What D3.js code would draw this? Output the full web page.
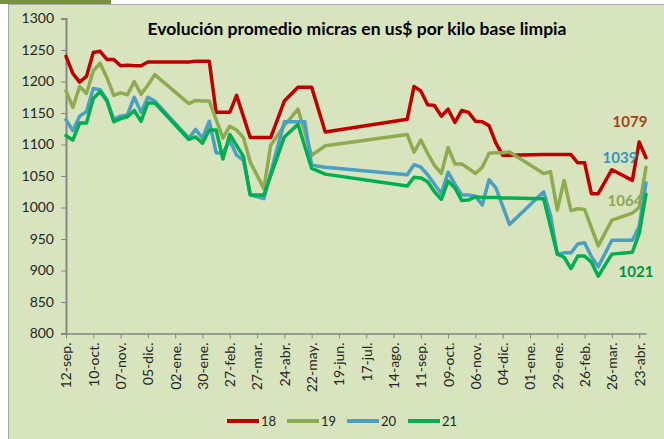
<!DOCTYPE html>
<html><head><meta charset="utf-8">
<script src="https://cdn.jsdelivr.net/npm/d3@7"></script>
<style>body{margin:0;background:#fff;}svg{display:block;}</style>
</head><body>
<svg id="c" width="664" height="439"></svg>
<script>
const dates = ["2017-09-12","2017-09-19","2017-09-26","2017-10-03","2017-10-10","2017-10-17","2017-10-24","2017-10-31","2017-11-07","2017-11-14","2017-11-21","2017-11-28","2017-12-05","2017-12-12",
"2018-01-16","2018-01-23","2018-01-30","2018-02-06","2018-02-13","2018-02-20","2018-02-27","2018-03-06","2018-03-13","2018-03-20","2018-04-03","2018-04-10","2018-04-24","2018-05-08","2018-05-15","2018-05-22","2018-06-05",
"2018-08-28","2018-09-04","2018-09-11","2018-09-18","2018-09-25","2018-10-02","2018-10-09","2018-10-16","2018-10-23","2018-10-30","2018-11-06","2018-11-13","2018-11-20","2018-11-27","2018-12-04","2018-12-11",
"2019-01-15","2019-01-22","2019-01-29","2019-02-05","2019-02-12","2019-02-19","2019-02-26","2019-03-05","2019-03-12","2019-03-26","2019-04-16","2019-04-23","2019-04-30"];

const s18 = [1240,1213,1199,1208,1246,1248,1235,1235,1225,1226,1225,1225,1231,1231,
1231,1232,1232,1232,1151,1151,1151,1178,null,1111,1111,1111,1169,1191,1191,1191,1120,
1140,1192,1185,1163,1162,1145,1156,1135,1154,1151,1137,1136,1130,1102,1083,1083,
1084,1084,1084,1084,1084,1071,1071,1022,1022,1060,1043,1104,1079];
const s19 = [1185,1159,1192,1181,1217,1229,1206,1178,1182,1179,1200,1180,1194,1211,
1165,1170,1169,1169,1140,1110,1129,1123,1111,1072,1030,1099,1130,1156,null,1083,1098,
1116,1088,1107,1086,1067,1054,1095,1069,1069,1062,1054,1064,1086,1087,1087,1088,
1054,1057,996,1043,995,998,997,null,939,980,991,1000,1064];
const s20 = [1139,1122,1145,1152,1189,1187,1171,1140,1145,1147,1175,1151,1175,1169,
1110,1124,1110,1137,1087,1086,1107,1083,1075,1020,1014,null,1136,1136,1136,1067,1064,
1052,1068,1064,1052,1037,1022,1056,1037,1020,1020,1018,1004,1044,1031,null,973,
1025,988,926,928,928,942,944,922,906,948,948,970,1039];
const s21 = [1114,1107,1134,1134,1173,1184,1169,1136,1141,1144,1154,1137,1166,1166,
1108,1112,1102,1123,1123,1077,1116,null,1081,1020,1020,null,1112,1132,null,1062,1053,
1034,1048,1047,1041,1025,1013,1042,1031,1011,1012,1017,1016,1016,1016,1015,1015,
1014,null,926,921,903,923,923,913,891,926,929,959,1021];

const seriesNames = ["18","19","20","21"];
const seriesColors = ["#c00000","#8fab4f","#4a9fc2","#00b050"];
const labelColors = ["#a5431c","#8fa756","#3a94b8","#00923f"];
const yTicks = [800,850,900,950,1000,1050,1100,1150,1200,1250,1300];
const xTickDates = ["2017-09-12","2017-10-10","2017-11-07","2017-12-05","2018-01-02","2018-01-30","2018-02-27","2018-03-27","2018-04-24","2018-05-22","2018-06-19","2018-07-17","2018-08-14","2018-09-11","2018-10-09","2018-11-06","2018-12-04","2019-01-01","2019-01-29","2019-02-26","2019-03-26","2019-04-23"];
const xTickLabels = ["12-sep.","10-oct.","07-nov.","05-dic.","02-ene.","30-ene.","27-feb.","27-mar.","24-abr.","22-may.","19-jun.","17-jul.","14-ago.","11-sep.","09-oct.","06-nov.","04-dic.","01-ene.","29-ene.","26-feb.","26-mar.","23-abr."];
const title = "Evolución promedio micras en us$ por kilo base limpia";

const parse = d3.utcParse("%Y-%m-%d");
const svg = d3.select("#c");
const font = "Lato, 'Open Sans', sans-serif";

// frame
svg.append("rect").attr("x",8.5).attr("y",4.5).attr("width",664).attr("height",440)
  .attr("fill","#d7e4bd").attr("stroke","#a6a6a6").attr("stroke-width",1);
svg.append("rect").attr("x",0).attr("y",0).attr("width",111).attr("height",4).attr("fill","#76923c");

const x = d3.scaleUtc().domain([parse("2017-09-12"), parse("2019-04-30")]).range([66, 646]);
const y = d3.scaleLinear().domain([800,1300]).range([333.5, 18.5]);

// y axis
const yAxis = svg.append("g").attr("transform","translate(66,0)")
  .call(d3.axisLeft(y).tickValues(yTicks).tickSize(5).tickPadding(7).tickFormat(d3.format("d")));
yAxis.select(".domain").attr("stroke","#868686").attr("stroke-width",2);
yAxis.selectAll(".tick line").attr("stroke","#868686").attr("stroke-width",1);
yAxis.selectAll("text").attr("font-family",font).attr("font-size","14px").attr("fill","#262626");

// x axis
const xAxis = svg.append("g").attr("transform","translate(0,333.5)")
  .call(d3.axisBottom(x).tickValues(xTickDates.map(parse)).tickSize(5).tickSizeOuter(0)
    .tickFormat((d,i)=>xTickLabels[i]));
xAxis.select(".domain").attr("stroke","#868686").attr("stroke-width",1.5);
xAxis.selectAll(".tick line").attr("stroke","#868686");
xAxis.selectAll("text").attr("font-family",font).attr("font-size","14px").attr("fill","#262626")
  .attr("text-anchor","end").attr("dy","0.35em")
  .attr("transform","translate(0,3) rotate(-90)").attr("x",-6).attr("y",0);

// lines
const allSeries = [s18,s19,s20,s21];
const line = d3.line().x(d=>x(d.d)).y(d=>y(d.v));
allSeries.forEach((vals,i)=>{
  const pts = dates.map((d,j)=>({d:parse(d), v:vals[j]})).filter(p=>p.v!=null);
  svg.append("path").datum(pts).attr("d",line).attr("fill","none")
    .attr("stroke",seriesColors[i]).attr("stroke-width",3.5)
    .attr("stroke-linejoin","round").attr("stroke-linecap","round");
});

// end labels
const labelOffsets = [[-16,-36],[-21,34],[-26,-25],[-10,77]];
allSeries.forEach((vals,i)=>{
  const n = vals.length-1;
  svg.append("text").attr("x", x(parse(dates[n])) + labelOffsets[i][0])
    .attr("y", y(vals[n]) + labelOffsets[i][1]).attr("dy","0.35em")
    .attr("text-anchor","middle").attr("font-family",font).attr("font-weight","bold")
    .attr("font-size","15px").attr("fill",labelColors[i]).text(vals[n]);
});

// title
svg.append("text").attr("x",357).attr("y",35).attr("text-anchor","middle")
  .attr("font-family",font).attr("font-weight","bold").attr("font-size","17.5px")
  .attr("fill","#000").text(title);

// legend
const legX = [227,287,347,408];
seriesNames.forEach((nm,i)=>{
  const g = svg.append("g").attr("transform",`translate(${legX[i]},421)`);
  g.append("line").attr("x1",0).attr("x2",32).attr("y1",0).attr("y2",0)
    .attr("stroke",seriesColors[i]).attr("stroke-width",4);
  g.append("text").attr("x",34).attr("y",0).attr("dy","0.35em").attr("font-family",font)
    .attr("font-size","13px").attr("fill","#262626").text(nm);
});
</script>
</body></html>
